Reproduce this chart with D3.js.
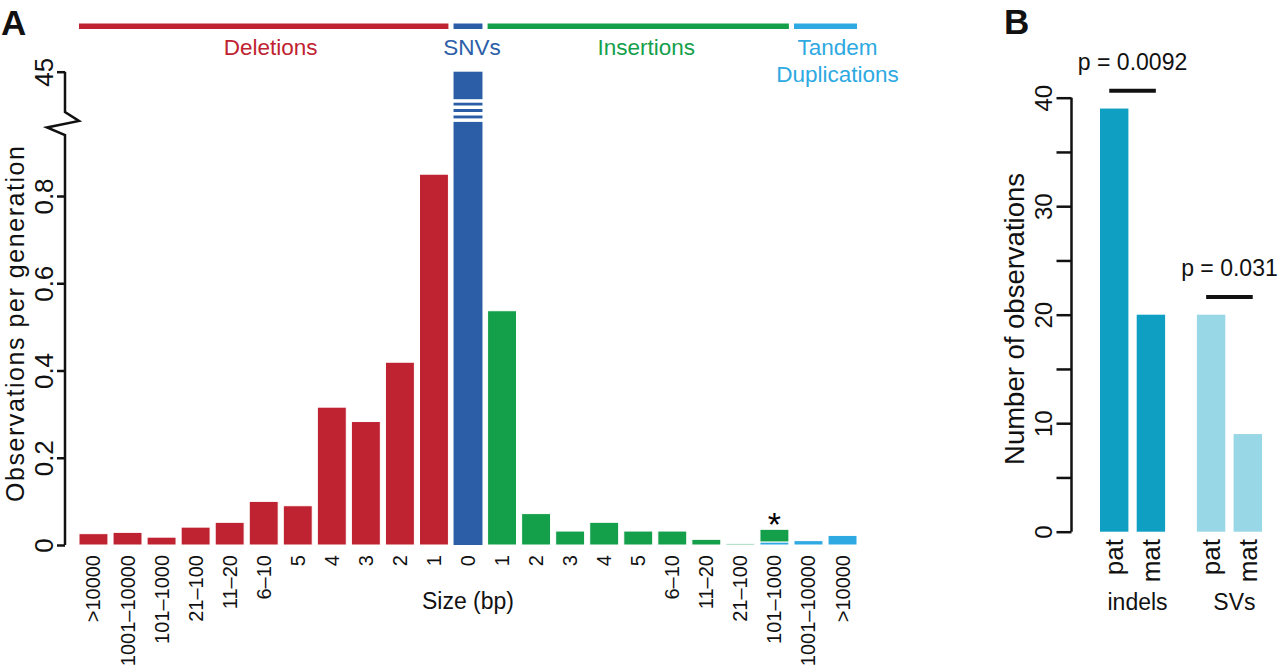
<!DOCTYPE html>
<html>
<head>
<meta charset="utf-8">
<script src="https://cdn.jsdelivr.net/npm/d3@7"></script>
<style>
  body { margin: 0; background: #fff; }
  text { font-family: "Liberation Sans", Arial, Helvetica, sans-serif; }
</style>
</head>
<body>
<div id="chart"></div>
<script>
var width = 1280,
  height = 666;

// panel A data
var delLabels = [">10000", "1001–10000", "101–1000", "21–100", "11–20", "6–10", "5", "4", "3", "2", "1"];
var delValues = [0.026, 0.029, 0.018, 0.041, 0.052, 0.100, 0.090, 0.316, 0.283, 0.419, 0.850];
var snvLabels = ["0"];
var snvValues = [45];
var insLabels = ["1", "2", "3", "4", "5", "6–10", "11–20", "21–100", "101–1000"];
var insValues = [0.537, 0.072, 0.032, 0.052, 0.032, 0.032, 0.013, 0.003, 0.029];
var dupLabels = ["101–1000", "1001–10000", ">10000"];
var dupValues = [0.007, 0.010, 0.022];
var yTicksLow = [0, 0.2, 0.4, 0.6, 0.8];
var yTicksHigh = [45];

// panel B data
var groupNames = ["indels", "SVs"];
var parentNames = ["pat", "mat"];
var indelCounts = [39, 20];
var svCounts = [20, 9];
var pValues = ["p = 0.0092", "p = 0.031"];
var bTicks = [0, 5, 10, 15, 20, 25, 30, 35, 40];
var bTickLabels = [0, 10, 20, 30, 40];

var colRed = "#bf2231", colBlue = "#2c5ea8", colGreen = "#14a04b", colSky = "#2ea9e1";
var colIndel = "#0f9fc2", colSV = "#98d7e5";

var svg = d3.select("#chart").append("svg")
  .attr("width", width)
  .attr("height", height);

// ---------- panel A ----------
var sizeLabels = delLabels.concat(snvLabels, insLabels, dupLabels.slice(1));
var nDel = delLabels.length, nIns = insLabels.length;

var x = d3.scaleBand()
  .domain(d3.range(sizeLabels.length))
  .range([79, 857])
  .paddingInner(0.15)
  .paddingOuter(0);

var yLow = d3.scaleLinear().domain([0, 0.8]).range([545, 196]);
var yHigh = d3.scaleLinear().domain([44, 45]).range([112, 71.7]);
var axisX = 65;

var bars = [];
delValues.forEach(function (v, i) { bars.push({ i: i, y0: 0, y1: v, c: colRed }); });
var firstIns = nDel + 1;
var dupStart = firstIns + nIns - 1;
var dupBase = {};
dupValues.forEach(function (v, k) {
  bars.push({ i: dupStart + k, y0: 0, y1: v, c: colSky });
  dupBase[dupStart + k] = v;
});
insValues.forEach(function (v, k) {
  var i = firstIns + k;
  var b = dupBase[i] || 0;
  bars.push({ i: i, y0: b, y1: b + v, c: colGreen });
});

svg.append("g").selectAll("rect")
  .data(bars)
  .enter()
  .append("rect")
  .attr("x", function (d) { return x(d.i); })
  .attr("width", x.bandwidth())
  .attr("y", function (d) { return yLow(d.y1); })
  .attr("height", function (d) { return yLow(d.y0) - yLow(d.y1); })
  .attr("fill", function (d) { return d.c; })
  .attr("stroke", "#fff")
  .attr("stroke-width", 1);

// SNV bar with break
var snvI = nDel;
svg.append("rect")
  .attr("x", x(snvI))
  .attr("width", x.bandwidth())
  .attr("y", yHigh(snvValues[0]))
  .attr("height", yLow(0) - yHigh(snvValues[0]))
  .attr("fill", colBlue);
var breakY = 110.6;
[-9.6, -3.3, 3.2, 9.6].forEach(function (o) {
  svg.append("rect")
    .attr("x", x(snvI) - 1)
    .attr("width", x.bandwidth() + 2)
    .attr("y", breakY + o - 1.8)
    .attr("height", 3.5)
    .attr("fill", "#fff");
});

// asterisk on 101-1000 insertion
var starI = dupStart;
svg.append("text")
  .attr("x", x(starI) + x.bandwidth() / 2)
  .attr("y", yLow(dupValues[0] + insValues[nIns - 1]) + 7)
  .attr("text-anchor", "middle")
  .attr("font-size", 34)
  .text("*");

// y axis (broken)
var axLow = svg.append("g")
  .attr("transform", "translate(" + axisX + ",0)")
  .call(d3.axisLeft(yLow).tickValues(yTicksLow).tickSize(8).tickFormat(function (d) { return d; }));
var axHigh = svg.append("g")
  .attr("transform", "translate(" + axisX + ",0)")
  .call(d3.axisLeft(yHigh).tickValues(yTicksHigh).tickSize(8).tickFormat(function (d) { return d; }));
[axLow, axHigh].forEach(function (a) {
  a.select(".domain").remove();
  a.selectAll("line").attr("stroke", "#111").attr("stroke-width", 2.5);
  a.selectAll("text")
    .attr("x", 0).attr("dy", 0)
    .attr("transform", "translate(-12,0) rotate(-90)")
    .attr("text-anchor", "middle")
    .attr("font-size", 26)
    .attr("fill", "#111");
});
svg.append("path")
  .attr("d", d3.line()([
    [axisX, yLow(0)], [axisX, 135], [axisX - 18, 127.5], [axisX + 14, 121], [axisX, 112], [axisX, yHigh(45)]
  ]))
  .attr("fill", "none")
  .attr("stroke", "#111")
  .attr("stroke-width", 2.5)
  .attr("stroke-linejoin", "miter");

svg.append("text")
  .attr("transform", "translate(24,324) rotate(-90)")
  .attr("text-anchor", "middle")
  .attr("font-size", 25)
  .attr("textLength", 356)
  .attr("lengthAdjust", "spacing")
  .attr("fill", "#111")
  .text("Observations per generation");

// x tick labels
svg.append("g").selectAll("text")
  .data(sizeLabels)
  .enter()
  .append("text")
  .attr("transform", function (d, i) {
    return "translate(" + (x(i) + x.bandwidth() / 2) + ",555) rotate(-90)";
  })
  .attr("dy", "0.35em")
  .attr("text-anchor", "end")
  .attr("font-size", 20)
  .attr("fill", "#111")
  .text(function (d) { return d; });

svg.append("text")
  .attr("x", x(snvI) + x.bandwidth() / 2)
  .attr("y", 609)
  .attr("text-anchor", "middle")
  .attr("font-size", 23)
  .attr("fill", "#111")
  .text("Size (bp)");

// category bars on top
var cats = [
  { name: ["Deletions"], a: 0, b: nDel - 1, c: colRed, nudge: 7 },
  { name: ["SNVs"], a: snvI, b: snvI, c: colBlue, nudge: 4 },
  { name: ["Insertions"], a: firstIns, b: dupStart, c: colGreen, nudge: 8 },
  { name: ["Tandem", "Duplications"], a: dupStart + 1, b: sizeLabels.length - 1, c: colSky, nudge: 12 }
];
cats.forEach(function (ct) {
  var x0 = x(ct.a), x1 = x(ct.b) + x.bandwidth();
  svg.append("rect")
    .attr("x", x0).attr("width", x1 - x0)
    .attr("y", 23.5).attr("height", 5.5)
    .attr("fill", ct.c);
  ct.name.forEach(function (t, k) {
    svg.append("text")
      .attr("x", (x0 + x1) / 2 + ct.nudge)
      .attr("y", 55 + k * 27)
      .attr("text-anchor", "middle")
      .attr("font-size", 22.5)
      .attr("fill", ct.c)
      .text(t);
  });
});

svg.append("text")
  .attr("x", 1).attr("y", 35)
  .attr("font-size", 35)
  .attr("font-weight", "bold")
  .attr("fill", "#111")
  .text("A");

// ---------- panel B ----------
var yB = d3.scaleLinear().domain([0, 40]).range([531.7, 97.7]);
var bUnit = d3.scaleLinear().domain([0, 1]).range([1100, 1136.7]);
var bW = 28.4, groupGap = 0.64;
var bData = [];
[indelCounts, svCounts].forEach(function (vals, g) {
  vals.forEach(function (v, k) {
    bData.push({ g: g, k: k, v: v, pos: g * (2 + groupGap) + k });
  });
});

svg.append("g").selectAll("rect")
  .data(bData)
  .enter()
  .append("rect")
  .attr("x", function (d) { return bUnit(d.pos); })
  .attr("width", bW)
  .attr("y", function (d) { return yB(d.v); })
  .attr("height", function (d) { return yB(0) - yB(d.v); })
  .attr("fill", function (d) { return d.g == 0 ? colIndel : colSV; });

var axB = svg.append("g")
  .attr("transform", "translate(1071.5,0)")
  .call(d3.axisLeft(yB).tickValues(bTicks).tickSize(15).tickFormat(function (d) {
    return bTickLabels.indexOf(d) >= 0 ? d : "";
  }));
axB.select(".domain").remove();
axB.selectAll("line").attr("stroke", "#111").attr("stroke-width", 2.5);
axB.selectAll("text")
  .attr("x", 0).attr("dy", 0)
  .attr("transform", "translate(-20,0) rotate(-90)")
  .attr("text-anchor", "middle")
  .attr("font-size", 24)
  .attr("fill", "#111");
axB.append("line")
  .attr("y1", yB(0)).attr("y2", yB(40))
  .attr("stroke", "#111").attr("stroke-width", 2.5);

svg.append("text")
  .attr("transform", "translate(1024,319) rotate(-90)")
  .attr("text-anchor", "middle")
  .attr("font-size", 27.5)
  .attr("fill", "#111")
  .text("Number of observations");

// bar labels
svg.append("g").selectAll("text")
  .data(bData)
  .enter()
  .append("text")
  .attr("transform", function (d) {
    return "translate(" + (bUnit(d.pos) + bW / 2) + ",539) rotate(-90)";
  })
  .attr("dy", "0.35em")
  .attr("text-anchor", "end")
  .attr("font-size", 26)
  .attr("fill", "#111")
  .text(function (d) { return parentNames[d.k]; });

groupNames.forEach(function (name, g) {
  var vals = g == 0 ? indelCounts : svCounts;
  var xa = bUnit(g * (2 + groupGap)), xb = bUnit(g * (2 + groupGap) + 1) + bW;
  var cx = (xa + xb) / 2;
  svg.append("text")
    .attr("x", cx + 5).attr("y", 610)
    .attr("text-anchor", "middle")
    .attr("font-size", 23)
    .attr("fill", "#111")
    .text(name);
  var ly = yB(d3.max(vals)) - 17.7;
  svg.append("line")
    .attr("x1", cx - 23.3).attr("x2", cx + 23.3)
    .attr("y1", ly).attr("y2", ly)
    .attr("stroke", "#111").attr("stroke-width", 4);
  svg.append("text")
    .attr("x", cx).attr("y", ly - 21)
    .attr("text-anchor", "middle")
    .attr("font-size", 23)
    .attr("fill", "#111")
    .text(pValues[g]);
});

svg.append("text")
  .attr("x", 1004).attr("y", 34)
  .attr("font-size", 35)
  .attr("font-weight", "bold")
  .attr("fill", "#111")
  .text("B");
</script>
</body>
</html>
